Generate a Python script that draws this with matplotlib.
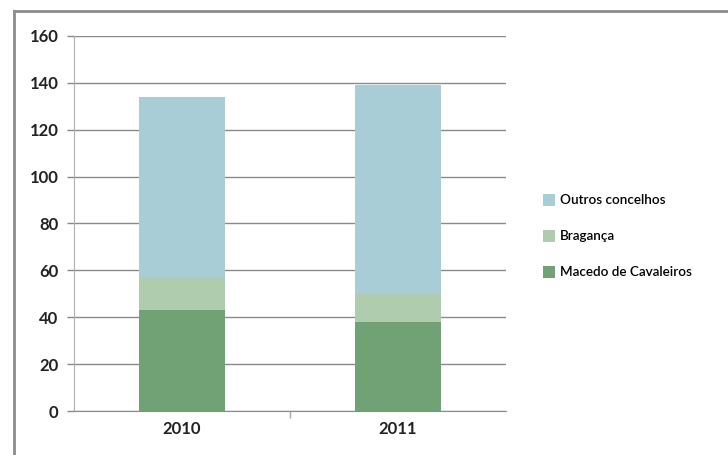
import matplotlib.pyplot as plt
from matplotlib.lines import Line2D
from matplotlib.patches import Patch

# data
years = ["2010", "2011"]
macedo = [43, 38]
braganca = [14, 12]
outros = [77, 89]
series_names = ["Macedo de Cavaleiros", "Bragança", "Outros concelhos"]
colors = ["#71a276", "#b0ccae", "#a9cdd7"]
y_ticks = [0, 20, 40, 60, 80, 100, 120, 140, 160]

plt.rcParams["font.family"] = ["Lato", "DejaVu Sans"]

fig = plt.figure(figsize=(7.28, 4.55), dpi=100)
ax = fig.add_axes([0.1012, 0.0967, 0.5938, 0.8242])

x = list(range(len(years)))
bottom2 = [a + b for a, b in zip(macedo, braganca)]
ax.bar(x, macedo, width=0.4, color=colors[0], zorder=3)
ax.bar(x, braganca, width=0.4, bottom=macedo, color=colors[1], zorder=3)
ax.bar(x, outros, width=0.4, bottom=bottom2, color=colors[2], zorder=3)

ax.set_xlim(-0.5, 1.5)
ax.set_ylim(0, 160)
ax.set_yticks(y_ticks)
ax.set_yticklabels([str(v) for v in y_ticks], fontsize=12, fontweight="bold", color="#222222")
ax.set_xticks([0.5])
ax.set_xticklabels([""])
ax.tick_params(axis="x", direction="out", length=5, color="#aaaaaa", width=1)
ax.tick_params(axis="y", direction="out", length=5, color="#888888", width=1, pad=6)
for i, yr in enumerate(years):
    ax.text(i, -7.5, yr, ha="center", va="center", fontsize=12, fontweight="bold", color="#222222")

ax.yaxis.grid(True, color="#8a8a8a", linewidth=1)
ax.set_axisbelow(True)
for side in ["top", "right"]:
    ax.spines[side].set_visible(False)
ax.spines["left"].set_color("#b0b0b0")
ax.spines["bottom"].set_color("#8a8a8a")

handles = [Patch(facecolor=colors[i], edgecolor="none") for i in [2, 1, 0]]
labels = [series_names[i] for i in [2, 1, 0]]
fig.legend(handles, labels, loc="center left", bbox_to_anchor=(0.736, 0.481),
           frameon=False, prop={"size": 9.7, "weight": "semibold"},
           handlelength=0.95, handleheight=0.95,
           handletextpad=0.35, labelspacing=1.75, borderpad=0)

# outer chart frame (cut off on the right and bottom)
fig.add_artist(Line2D([13.7 / 728, 13.7 / 728], [0, 1 - 11 / 455], transform=fig.transFigure,
                      color="#8c8c8c", linewidth=2))
fig.add_artist(Line2D([13.7 / 728, 1], [1 - 11 / 455, 1 - 11 / 455], transform=fig.transFigure,
                      color="#8c8c8c", linewidth=2))

fig.savefig("out.png", dpi=100)
